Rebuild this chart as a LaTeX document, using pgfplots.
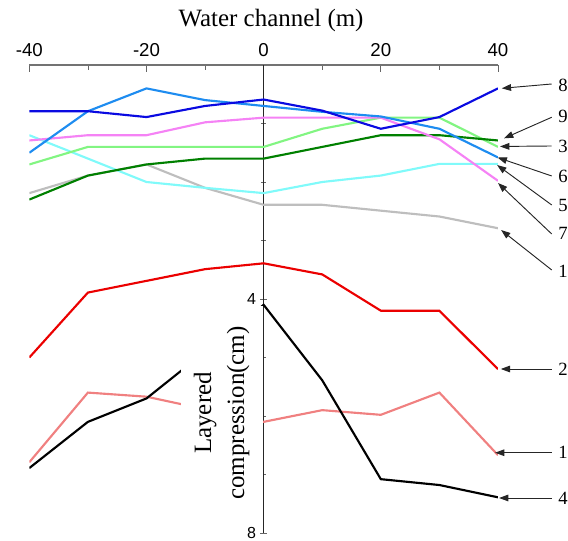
\documentclass[border=0pt]{standalone}
\usepackage{fontspec}
\setmainfont{Liberation Serif}
\newfontfamily\arial{Liberation Sans}
\usepackage{pgfplots}
\pgfplotsset{compat=1.18}
\usetikzlibrary{arrows.meta}
\definecolor{cDkBlue}{RGB}{10,10,225}
\definecolor{cBlue}{RGB}{30,140,240}
\definecolor{cPink}{RGB}{245,130,245}
\definecolor{cLtGreen}{RGB}{130,245,130}
\definecolor{cDkGreen}{RGB}{0,128,0}
\definecolor{cCyan}{RGB}{128,250,250}
\definecolor{cGray}{RGB}{190,190,190}
\definecolor{cRed}{RGB}{235,0,0}
\definecolor{cSalmon}{RGB}{240,128,128}
\begin{document}
\begin{tikzpicture}
\begin{axis}[
  at={(0pt,0pt)}, anchor=south west,
  scale only axis, width=351.5pt, height=351pt,
  xmin=-40, xmax=40, ymin=-8, ymax=0,
  axis x line=top, axis y line=center,
  x axis line style={-, gray!90!black, line width=0.8pt},
  y axis line style={-, black!85, line width=0.6pt},
  xtick={-40,-20,0,20,40},
  minor xtick={-30,-10,10,30},
  ytick={-8,-4}, yticklabels={8,4},
  minor ytick={-7,-6,-5,-3,-2,-1},
  xtick align=inside, ytick align=center,
  major tick length=5pt, minor tick length=4pt,
  tick style={gray!80!black, line width=0.6pt},
  /pgf/number format/assume math mode=true,
  x tick label style={font=\arial\fontsize{14}{16}\selectfont, yshift=3pt},
  y tick label style={font=\arial\fontsize{12}{14}\selectfont, inner sep=1pt, xshift=-2pt},
  every axis plot/.append style={line width=1.6pt, mark=none},
]
% gray
\addplot[cGray] coordinates {(-40,-2.19) (-30,-1.89) (-20,-1.70) (-10,-2.10) (0,-2.39) (10,-2.39) (20,-2.49) (30,-2.59) (40,-2.79)};
% cyan
\addplot[cCyan] coordinates {(-40,-1.20) (-30,-1.60) (-20,-2.00) (-10,-2.10) (0,-2.19) (10,-2.00) (20,-1.89) (30,-1.69) (40,-1.69)};
% light green
\addplot[cLtGreen] coordinates {(-40,-1.70) (-30,-1.40) (-20,-1.40) (-10,-1.40) (0,-1.40) (10,-1.09) (20,-0.90) (30,-0.90) (40,-1.40)};
% dark green
\addplot[cDkGreen] coordinates {(-40,-2.30) (-30,-1.89) (-20,-1.70) (-10,-1.60) (0,-1.60) (10,-1.40) (20,-1.20) (30,-1.20) (40,-1.29)};
% pink
\addplot[cPink] coordinates {(-40,-1.29) (-30,-1.20) (-20,-1.20) (-10,-0.98) (0,-0.90) (10,-0.90) (20,-0.90) (30,-1.27) (40,-1.98)};
% blue
\addplot[cBlue] coordinates {(-40,-1.50) (-30,-0.79) (-20,-0.40) (-10,-0.60) (0,-0.70) (10,-0.80) (20,-0.88) (30,-1.09) (40,-1.58)};
% dark blue
\addplot[cDkBlue] coordinates {(-40,-0.79) (-30,-0.79) (-20,-0.89) (-10,-0.70) (0,-0.59) (10,-0.78) (20,-1.09) (30,-0.89) (40,-0.40)};
% red
\addplot[cRed] coordinates {(-40,-5.00) (-30,-3.89) (-20,-3.69) (-10,-3.49) (0,-3.39) (10,-3.58) (20,-4.20) (30,-4.20) (40,-5.20)};
% salmon
\addplot[cSalmon] coordinates {(-40,-6.79) (-30,-5.60) (-20,-5.67) (0,-6.10) (10,-5.90) (20,-5.98) (30,-5.60) (40,-6.67)};
% black
\addplot[black] coordinates {(-40,-6.89) (-30,-6.10) (-20,-5.70) (0,-4.10) (10,-5.39) (20,-7.08) (30,-7.18) (40,-7.39)};
\end{axis}
% white box behind the y label
\fill[white] (113.8pt,170.25pt) rectangle (174.9pt,17.25pt);
\node[rotate=90, align=center, inner sep=0pt, font=\fontsize{18.7}{24.75}\selectfont] at (144.2pt,90pt) {Layered\\compression(cm)};
% title
\node[anchor=base, inner sep=0pt, font=\fontsize{18.7}{22}\selectfont] at (181.3pt,379.5pt) {Water channel (m)};
% annotations
\begin{scope}[black!85, line width=0.7pt, -{Triangle[length=7pt,width=5pt]}]
\draw (391.8pt,336.75pt) -- (354.3pt,333.5pt);
\draw (391.8pt,311.8pt) -- (356.0pt,296.0pt);
\draw (391.8pt,290.25pt) -- (353.0pt,289.9pt);
\draw (391.8pt,267.75pt) -- (351.2pt,281.6pt);
\draw (391.8pt,246.0pt) -- (350.8pt,276.0pt);
\draw (391.8pt,224.25pt) -- (351.5pt,262.5pt);
\draw (391.8pt,197.25pt) -- (353.8pt,227.25pt);
\draw (391.8pt,123.0pt) -- (353.6pt,123.0pt);
\draw (391.8pt,60.2pt) -- (349.3pt,60.2pt);
\draw (391.8pt,26.25pt) -- (352.3pt,26.25pt);
\end{scope}
\begin{scope}[every node/.style={anchor=west, inner sep=0pt, font=\fontsize{14}{16}\selectfont}]
\node at (396.5pt,336pt) {8};
\node at (396.5pt,312.2pt) {9};
\node at (396.5pt,290.25pt) {3};
\node at (396.5pt,267.2pt) {6};
\node at (396.5pt,246pt) {5};
\node at (396.5pt,224.8pt) {7};
\node at (396.5pt,196pt) {1};
\node at (396.5pt,123pt) {2};
\node at (396.5pt,60.2pt) {1};
\node at (396.5pt,26pt) {4};
\end{scope}
\pgfresetboundingbox
\path (-22pt,-6pt) rectangle (404pt,399.75pt);
\end{tikzpicture}
\end{document}
